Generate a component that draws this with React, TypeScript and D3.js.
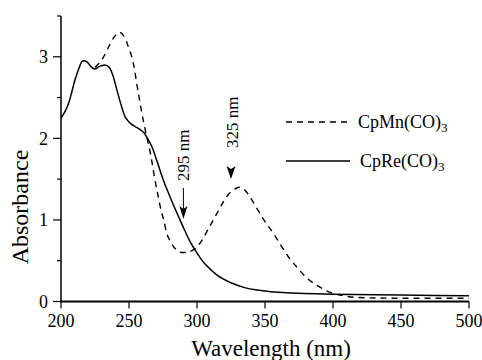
import React from "react";
import * as d3 from "d3";

const xTicks = [200, 250, 300, 350, 400, 450, 500];
const yTicksMajor = [0, 1, 2, 3];
const yTicksMinor = [0.5, 1.5, 2.5, 3.5];

const reNm = [200, 203, 206, 210, 213, 216, 219, 222, 225, 228, 232, 235, 238, 241, 244, 247, 250, 254, 258, 261, 264, 267, 271, 275, 279, 283, 287, 291, 295, 299, 303, 307, 315, 325, 335, 350, 375, 400, 450, 500];
const reAbs = [2.25, 2.33, 2.45, 2.7, 2.85, 2.95, 2.94, 2.88, 2.85, 2.88, 2.9, 2.88, 2.78, 2.6, 2.42, 2.27, 2.2, 2.15, 2.11, 2.07, 1.99, 1.89, 1.7, 1.5, 1.33, 1.17, 1.02, 0.87, 0.73, 0.62, 0.52, 0.44, 0.32, 0.23, 0.17, 0.13, 0.1, 0.09, 0.08, 0.07];

const mnNm = [225, 228, 231, 235, 238.5, 241, 243, 246, 248, 250, 252, 254, 255.6, 257.5, 259, 261, 263, 265, 267, 269, 271, 273, 275.5, 277.7, 281, 285, 289, 292.5, 296, 300, 304, 308, 312, 316, 320, 324, 328, 331, 335, 339, 343, 350, 356, 362, 368, 374, 380, 387, 393, 400, 405, 417, 450, 500];
const mnAbs = [2.87, 2.92, 2.99, 3.12, 3.23, 3.28, 3.3, 3.26, 3.19, 3.1, 3.0, 2.85, 2.68, 2.5, 2.35, 2.18, 2.02, 1.88, 1.7, 1.5, 1.33, 1.16, 1.0, 0.84, 0.72, 0.63, 0.6, 0.6, 0.62, 0.67, 0.76, 0.88, 1.0, 1.12, 1.24, 1.33, 1.38, 1.4, 1.37, 1.28, 1.17, 0.98, 0.84, 0.68, 0.53, 0.41, 0.3, 0.21, 0.15, 0.1, 0.08, 0.05, 0.04, 0.04];

const seriesLabels = ["CpMn(CO)", "CpRe(CO)"];
const annotations = [
  { nm: 290, text: "295 nm" },
  { nm: 325, text: "325 nm" },
];

const FONT = "Liberation Serif, DejaVu Serif, serif";
const tStyle = { fontFamily: FONT };

export default function App() {
  const x = d3.scaleLinear().domain([200, 500]).range([61, 469]);
  const y = d3.scaleLinear().domain([0, 3.5]).range([301.5, 16]);
  const line = d3
    .line<[number, number]>()
    .x((d) => x(d[0]))
    .y((d) => y(d[1]))
    .curve(d3.curveMonotoneX);
  const reData = reNm.map((n, i) => [n, reAbs[i]] as [number, number]);
  const mnData = mnNm.map((n, i) => [n, mnAbs[i]] as [number, number]);

  const a295 = x(annotations[0].nm);
  const a325 = x(annotations[1].nm);

  return (
    <svg
      width={482}
      height={360}
      style={{ position: "absolute", left: 0, top: 0, background: "#fff" }}
    >
      <rect width={482} height={360} fill="#fff" />
      {/* curves */}
      <path d={line(mnData) || ""} fill="none" stroke="#000" strokeWidth={1.4} strokeDasharray="6,5" />
      <path d={line(reData) || ""} fill="none" stroke="#000" strokeWidth={1.5} />

      {/* axes */}
      <line x1={x(200)} x2={x(200)} y1={y(3.5)} y2={y(0) + 1} stroke="#000" strokeWidth={1.5} />
      <line x1={x(200) - 1} x2={x(500)} y1={y(0)} y2={y(0)} stroke="#000" strokeWidth={2} />
      {yTicksMajor.map((t) => (
        <g key={"ym" + t}>
          <line x1={x(200) - 8} x2={x(200)} y1={y(t)} y2={y(t)} stroke="#000" strokeWidth={1.2} />
          <text x={48} y={y(t)} dy="0.35em" textAnchor="end" fontSize={18} style={tStyle}>
            {t}
          </text>
        </g>
      ))}
      {yTicksMinor.map((t) => (
        <line key={"yn" + t} x1={x(200) - 4} x2={x(200)} y1={y(t)} y2={y(t)} stroke="#000" strokeWidth={1.2} />
      ))}
      {xTicks.map((t) => (
        <g key={"x" + t}>
          <line x1={x(t)} x2={x(t)} y1={y(0)} y2={y(0) + 7} stroke="#000" strokeWidth={1.2} />
          <text x={x(t)} y={327} textAnchor="middle" fontSize={18} style={tStyle}>
            {t}
          </text>
        </g>
      ))}
      <text x={271} y={356} textAnchor="middle" fontSize={23} style={tStyle}>
        Wavelength (nm)
      </text>
      <text transform="translate(28,207) rotate(-90)" textAnchor="middle" fontSize={24} style={tStyle}>
        Absorbance
      </text>

      {/* annotations */}
      <text transform={`translate(${a295 + 6},181) rotate(-90)`} fontSize={17} style={tStyle}>
        {annotations[0].text}
      </text>
      <line x1={a295} x2={a295} y1={188} y2={210} stroke="#000" strokeWidth={1} />
      <path d={`M${a295 - 4},206 L${a295},219 L${a295 + 4},206 L${a295},209 Z`} fill="#000" />
      <text transform={`translate(${a325 + 7},148) rotate(-90)`} fontSize={17} style={tStyle}>
        {annotations[1].text}
      </text>
      <path d={`M${a325 - 4.5},166 L${a325},179 L${a325 + 4.5},166 L${a325},169 Z`} fill="#000" />

      {/* legend */}
      <line x1={286} x2={350} y1={122} y2={122} stroke="#000" strokeWidth={1.5} strokeDasharray="6,5" />
      <text x={358} y={128} fontSize={18} style={tStyle}>
        {seriesLabels[0]}
        <tspan fontSize={13} dy={4}>3</tspan>
      </text>
      <line x1={286} x2={350} y1={161} y2={161} stroke="#000" strokeWidth={1.5} />
      <text x={360} y={167} fontSize={18} style={tStyle}>
        {seriesLabels[1]}
        <tspan fontSize={13} dy={4}>3</tspan>
      </text>
    </svg>
  );
}
